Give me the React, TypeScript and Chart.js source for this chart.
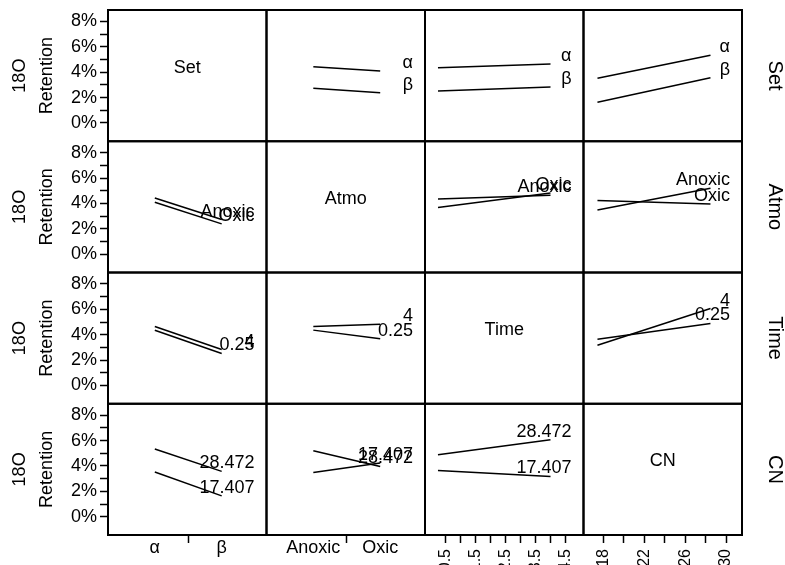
import React, { useEffect, useRef } from 'react';
import { Chart, registerables } from 'chart.js';

Chart.register(...registerables);

// ---- data ----
const FACTOR_NAMES = ['Set', 'Atmo', 'Time', 'CN'];
const SET_LEVELS = ['α', 'β'];
const ATMO_LEVELS = ['Anoxic', 'Oxic'];
const CAT_POSITIONS = [1, 2];
const TIME_LEVELS = [0.25, 4];
const TIME_LEVEL_LABELS = ['0.25', '4'];
const CN_LEVELS = [17.407, 28.472];
const CN_LEVEL_LABELS = ['17.407', '28.472'];

// cell means of 18O retention (%), [first factor level][second factor level]
const SET_ATMO = [[4.43, 4.09], [2.73, 2.39]];
const SET_TIME = [[4.35, 4.65], [2.52, 2.83]];
const SET_CN = [[3.52, 5.34], [1.64, 3.57]];
const ATMO_TIME = [[4.36, 4.65], [3.68, 4.82]];
const ATMO_CN = [[3.48, 5.2], [4.24, 3.96]];
const TIME_CN = [[3.65, 4.88], [3.17, 6.06]];

// ticks
const Y_TICKS = [0, 1, 2, 3, 4, 5, 6, 7, 8];
const Y_TICK_LABELS = ['0%', '', '2%', '', '4%', '', '6%', '', '8%'];
const CAT_TICKS = [1, 1.5, 2];
const TIME_TICKS = [0.5, 1, 1.5, 2, 2.5, 3, 3.5, 4, 4.5];
const TIME_TICK_LABELS = ['0.5', '', '1.5', '', '2.5', '', '3.5', '', '4.5'];
const CN_TICKS = [18, 20, 22, 24, 26, 28, 30];
const CN_TICK_LABELS = ['18', '', '22', '', '26', '', '30'];

const FONT = '"Liberation Sans", Arial, Helvetica, sans-serif';

const PAIRS: Record<string, number[][]> = {
  '0-1': SET_ATMO,
  '0-2': SET_TIME,
  '0-3': SET_CN,
  '1-2': ATMO_TIME,
  '1-3': ATMO_CN,
  '2-3': TIME_CN,
};

function cell(a: number, i: number, b: number, j: number): number {
  return a < b ? PAIRS[`${a}-${b}`][i][j] : PAIRS[`${b}-${a}`][j][i];
}

const X_POSITIONS = [CAT_POSITIONS, CAT_POSITIONS, TIME_LEVELS, CN_LEVELS];
const LEVEL_LABELS = [SET_LEVELS, ATMO_LEVELS, TIME_LEVEL_LABELS, CN_LEVEL_LABELS];

function buildDatasets() {
  const ds: any[] = [];
  for (let r = 0; r < 4; r++) {
    for (let c = 0; c < 4; c++) {
      if (r === c) continue;
      for (let i = 0; i < 2; i++) {
        ds.push({
          data: X_POSITIONS[c].map((x, j) => ({ x, y: cell(r, i, c, j) })),
          xAxisID: 'x' + c,
          yAxisID: 'y' + r,
          traceLabel: LEVEL_LABELS[r][i],
          borderColor: '#000',
          borderWidth: 1.5,
          pointRadius: 0,
          showLine: true,
          fill: false,
        });
      }
    }
  }
  return ds;
}

const panelPlugin = {
  id: 'panels',
  afterDatasetsDraw(chart: any) {
    const ctx = chart.ctx;
    ctx.save();
    ctx.strokeStyle = '#000';
    ctx.lineWidth = 2;
    for (let r = 0; r < 4; r++) {
      for (let c = 0; c < 4; c++) {
        const xs = chart.scales['x' + c];
        const ys = chart.scales['y' + r];
        ctx.strokeRect(xs.left, ys.top, xs.right - xs.left, ys.bottom - ys.top);
      }
    }
    ctx.fillStyle = '#000';
    ctx.font = `18px ${FONT}`;
    ctx.textAlign = 'center';
    ctx.textBaseline = 'middle';
    for (let k = 0; k < 4; k++) {
      const xs = chart.scales['x' + k];
      const ys = chart.scales['y' + k];
      ctx.fillText(FACTOR_NAMES[k], (xs.left + xs.right) / 2, (ys.top + ys.bottom) / 2 - 8);
    }
    ctx.textAlign = 'right';
    chart.data.datasets.forEach((ds: any) => {
      const xs = chart.scales[ds.xAxisID];
      const ys = chart.scales[ds.yAxisID];
      const last = ds.data[ds.data.length - 1];
      ctx.fillText(ds.traceLabel, xs.right - 12, ys.getPixelForValue(last.y) - 8);
    });
    ctx.restore();
  },
};

function yScale(r: number) {
  return {
    type: 'linear',
    position: 'left',
    stack: 'rows',
    stackWeight: 1,
    min: -1.44,
    max: 8.9,
    afterBuildTicks: (s: any) => {
      s.ticks = Y_TICKS.map((v) => ({ value: v }));
    },
    afterFit: (s: any) => {
      s.width = 108;
      s.paddingTop = 0;
      s.paddingBottom = 0;
    },
    ticks: {
      autoSkip: false,
      padding: 3,
      color: '#000',
      font: { family: FONT, size: 18, lineHeight: 1 },
      callback: (_v: any, idx: number) => Y_TICK_LABELS[idx],
    },
    grid: { drawOnChartArea: false, drawTicks: true, tickLength: 8, tickWidth: 1.5, tickColor: '#000' },
    border: { display: false },
    title: {
      display: true,
      text: ['18O', 'Retention'],
      color: '#000',
      font: { family: FONT, size: 18, lineHeight: 1.5 },
      padding: { top: 6.5, bottom: 0 },
    },
  };
}

function rightScale(r: number) {
  return {
    type: 'linear',
    position: 'right',
    stack: 'rowsR',
    stackWeight: 1,
    min: 0,
    max: 1,
    afterFit: (s: any) => {
      s.width = 43;
      s.paddingTop = 0;
      s.paddingBottom = 0;
    },
    ticks: { display: false },
    grid: { display: false },
    border: { display: false },
    title: {
      display: true,
      text: FACTOR_NAMES[r],
      color: '#000',
      font: { family: FONT, size: 20, lineHeight: 1 },
      padding: 0,
    },
  };
}

function xScale(c: number) {
  const isCat = c < 2;
  const ticksArr = isCat ? CAT_TICKS : c === 2 ? TIME_TICKS : CN_TICKS;
  const labelArr = isCat
    ? CAT_TICKS.map((v) => (v === 1 ? LEVEL_LABELS[c][0] : v === 2 ? LEVEL_LABELS[c][1] : ''))
    : c === 2
    ? TIME_TICK_LABELS
    : CN_TICK_LABELS;
  const range = isCat ? [0.3, 2.67] : c === 2 ? [-0.183, 5.1] : [16.04, 31.56];
  return {
    type: 'linear',
    position: 'bottom',
    stack: 'cols',
    stackWeight: 1,
    min: range[0],
    max: range[1],
    afterBuildTicks: (s: any) => {
      s.ticks = ticksArr.map((v) => ({ value: v }));
    },
    afterFit: (s: any) => {
      s.height = 30;
      s.paddingLeft = 0;
      s.paddingRight = 0;
    },
    ticks: {
      autoSkip: false,
      minRotation: isCat ? 0 : 90,
      maxRotation: isCat ? 0 : 90,
      padding: isCat ? -4 : 6,
      color: '#000',
      font: { family: FONT, size: isCat ? 18 : 16, lineHeight: 1 },
      callback: (_v: any, idx: number) => labelArr[idx],
    },
    grid: {
      drawOnChartArea: false,
      drawTicks: true,
      tickLength: 8,
      tickWidth: 1.5,
      tickColor: (ctx: any) =>
        isCat && ctx.tick && ctx.tick.value !== 1.5 ? 'rgba(0,0,0,0)' : '#000',
    },
    border: { display: false },
  };
}

export default function App() {
  const ref = useRef<HTMLCanvasElement | null>(null);
  useEffect(() => {
    document.body.style.margin = '0';
    if (!ref.current) return;
    const scales: any = {};
    for (let c = 0; c < 4; c++) scales['x' + c] = xScale(c);
    for (let r = 3; r >= 0; r--) scales['y' + r] = yScale(r);
    for (let r = 0; r < 4; r++) scales['r' + r] = rightScale(r);
    const chart = new Chart(ref.current, {
      type: 'scatter',
      data: { datasets: buildDatasets() },
      options: {
        responsive: false,
        animation: false,
        devicePixelRatio: 1,
        layout: { padding: { top: 10, left: 0, right: 0, bottom: 0 } },
        plugins: { legend: { display: false }, tooltip: { enabled: false } },
        scales,
      } as any,
      plugins: [panelPlugin],
    });
    return () => chart.destroy();
  }, []);
  return (
    <div style={{ width: 785, height: 565, background: '#fff' }}>
      <canvas ref={ref} width={785} height={565} style={{ display: 'block' }} />
    </div>
  );
}
